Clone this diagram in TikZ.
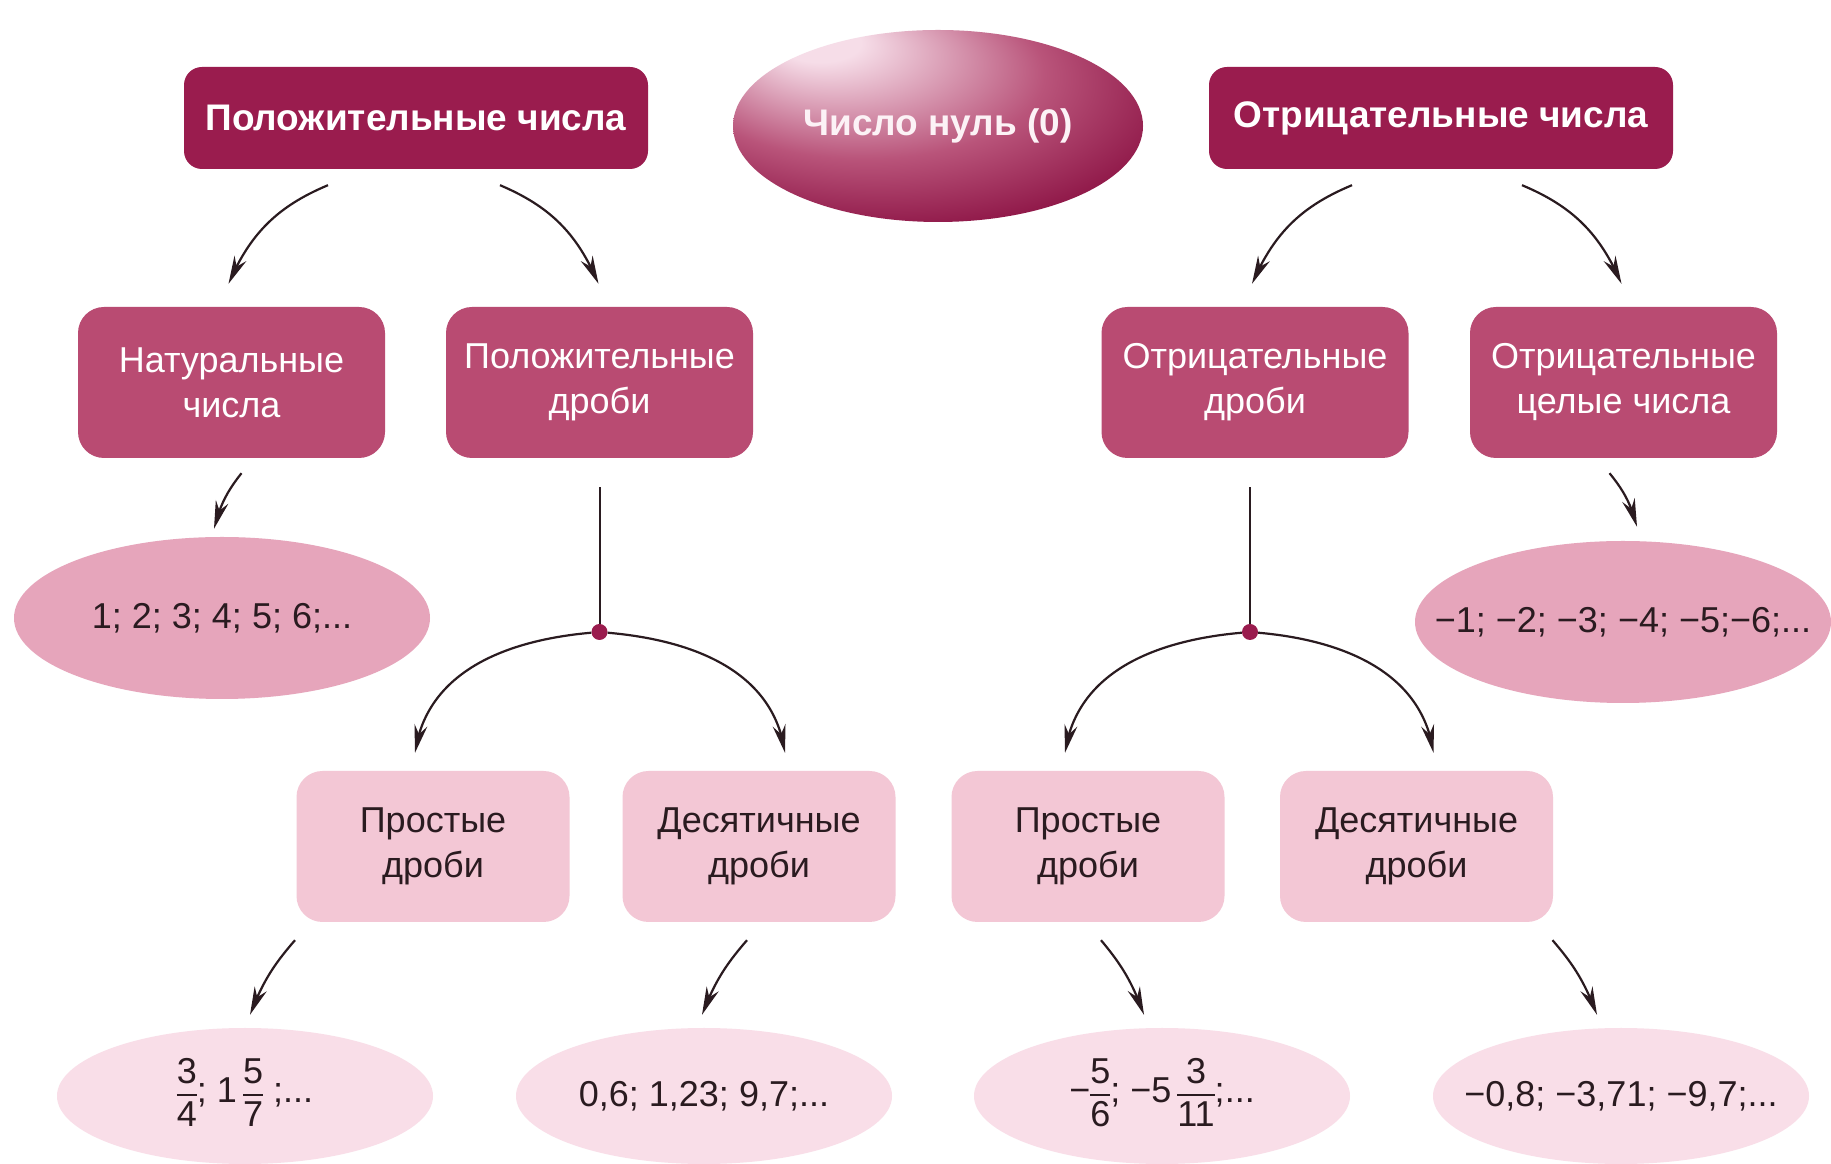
\documentclass[tikz,border=0pt]{standalone}
\usepackage{fontspec}
\setmainfont{Liberation Sans}
\usetikzlibrary{shapes.geometric,arrows.meta,bending}
\definecolor{cA}{HTML}{9A1C4E}
\definecolor{cB}{HTML}{B94B72}
\definecolor{cC}{HTML}{E6A5BB}
\definecolor{cD}{HTML}{F3C7D5}
\definecolor{cE}{HTML}{F9DEE8}
\definecolor{ink}{HTML}{2A1B20}
\definecolor{zlight}{HTML}{F6DDE8}
\definecolor{ztext}{HTML}{FCF2F6}
\definecolor{zmid}{HTML}{B9547A}
\definecolor{zdark}{HTML}{8A1042}
\pgfdeclareradialshading{zeroshade}{\pgfpoint{-16bp}{24bp}}{color(0bp)=(zlight); color(5bp)=(zlight); color(22bp)=(zmid); color(36bp)=(zdark); color(44bp)=(zdark); color(50bp)=(zmid)}
\newcommand\fr[2]{\ensuremath{\vcenter{\halign{\hfil##\hfil\cr\strut #1\cr\noalign{\kern-3pt\hrule height 1.8pt\kern-1pt}\strut #2\cr}}}}
\tikzset{
 txt/.style={font=\fontsize{36}{45}\selectfont, align=center, inner sep=0pt},
 topbox/.style={txt, rectangle, rounded corners=18pt, fill=cA, text=white, font=\fontsize{37}{45}\selectfont\bfseries, minimum width=464pt, minimum height=102pt},
 zero/.style={txt, ellipse, shade, shading=zeroshade, text=ztext, font=\fontsize{37}{45}\selectfont\bfseries, minimum width=410pt, minimum height=192pt},
 midbox/.style={txt, rectangle, rounded corners=26pt, fill=cB, text=white, minimum width=307pt, minimum height=151pt},
 lowbox/.style={txt, rectangle, rounded corners=26pt, fill=cD, text=ink, minimum width=273pt, minimum height=151pt},
 midell/.style={txt, ellipse, fill=cC, text=ink, inner xsep=-60pt, inner ysep=-10pt, minimum width=416pt, minimum height=162pt},
 lowell/.style={txt, ellipse, fill=cE, text=ink, inner xsep=-60pt, inner ysep=-10pt, minimum width=376pt, minimum height=136pt},
 arr/.style={draw=ink, line width=2.2pt, -{Stealth[length=28pt,width=13pt,inset=9pt]}},
 ln/.style={draw=ink, line width=2pt},
 dotn/.style={circle, fill=cA, inner sep=0pt, minimum size=16pt}
}
\begin{document}
\begin{tikzpicture}[x=1pt,y=1pt]
\useasboundingbox (0,0) rectangle (1831,1164);
\fill[white] (0,0) rectangle (1831,1164);
% top row
\node[topbox] (P) at (416,1046) {Положительные числа};
\node[zero] (Z) at (938,1038) {Число нуль (0)};
\node[topbox] (N) at (1441,1046) {Отрицательные числа};
% second row
\node[midbox] (A) at (231.5,781.5) {Натуральные\\числа};
\node[midbox] (B) at (599.5,781.5) {Положительные\\дроби};
\node[midbox] (C) at (1255,781.5) {Отрицательные\\дроби};
\node[midbox] (D) at (1623.5,781.5) {Отрицательные\\целые числа};
% ellipses row 2
\node[midell] (E1) at (222,546) {1; 2; 3; 4; 5; 6;...};
\node[midell] (E2) at (1623,542) {−1; −2; −3; −4; −5;−6;...};
% branching dots
\node[dotn] (d1) at (599.5,532) {};
\node[dotn] (d2) at (1250,532) {};
% third row
\node[lowbox] (F) at (433,317.5) {Простые\\дроби};
\node[lowbox] (G) at (759,317.5) {Десятичные\\дроби};
\node[lowbox] (H) at (1088,317.5) {Простые\\дроби};
\node[lowbox] (I) at (1416.5,317.5) {Десятичные\\дроби};
% bottom ellipses
\node[lowell] (L1) at (245,68) {\fr{3}{4}; 1\,\fr{5}{7} ;...};
\node[lowell] (L2) at (704,68) {0,6; 1,23; 9,7;...};
\node[lowell] (L3) at (1162,68) {−\fr{5}{6}; −5\,\fr{3}{11};...};
\node[lowell] (L4) at (1621,68) {−0,8; −3,71; −9,7;...};
% connectors top
\draw[arr] ([xshift=-88pt,yshift=-16pt]P.south) to[bend right=22] ([xshift=-3pt,yshift=23pt]A.north);
\draw[arr] ([xshift=84pt,yshift=-16pt]P.south) to[bend left=22] ([xshift=-1pt,yshift=23pt]B.north);
\draw[arr] ([xshift=-89pt,yshift=-16pt]N.south) to[bend right=22] ([xshift=-3pt,yshift=23pt]C.north);
\draw[arr] ([xshift=81pt,yshift=-16pt]N.south) to[bend left=22] ([xshift=-2pt,yshift=23pt]D.north);
% row 2 to ellipses
\draw[arr] ([xshift=10pt,yshift=-15pt]A.south) to[bend right=12] ([xshift=-8pt,yshift=8pt]E1.north);
\draw[arr] ([xshift=-14pt,yshift=-15pt]D.south) to[bend left=12] ([xshift=14pt,yshift=14pt]E2.north);
% vertical lines to dots
\draw[ln, shorten >=29pt] (d1) -- (d1 |- B.south);
\draw[ln, shorten >=29pt] (d2) -- (d2 |- C.south);
% arcs
\draw[arr] (d1) to[out=185,in=82] ([xshift=-18pt,yshift=18pt]F.north);
\draw[arr] (d1) to[out=-5,in=98] ([xshift=26pt,yshift=18pt]G.north);
\draw[arr] (d2) to[out=185,in=82] ([xshift=-23pt,yshift=18pt]H.north);
\draw[arr] (d2) to[out=-5,in=98] ([xshift=17pt,yshift=18pt]I.north);
% row 3 to bottom
\draw[arr] ([xshift=-138pt,yshift=-18pt]F.south) to[bend right=10] ([xshift=5pt,yshift=13pt]L1.north);
\draw[arr] ([xshift=-12pt,yshift=-18pt]G.south) to[bend right=10] ([xshift=-2pt,yshift=13pt]L2.north);
\draw[arr] ([xshift=13pt,yshift=-18pt]H.south) to[bend left=10] ([xshift=-18pt,yshift=13pt]L3.north);
\draw[arr] ([xshift=136pt,yshift=-18pt]I.south) to[bend left=10] ([xshift=-24pt,yshift=13pt]L4.north);
\end{tikzpicture}
\end{document}
